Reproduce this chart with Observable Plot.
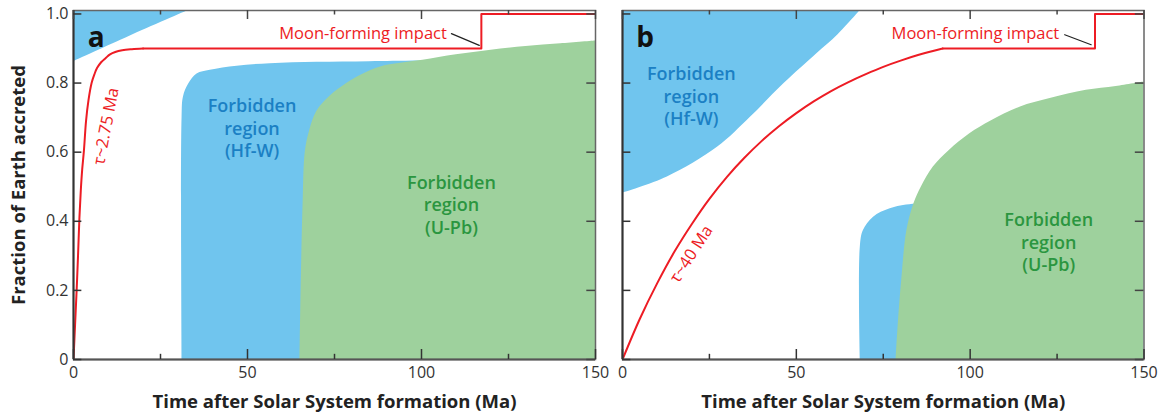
<!DOCTYPE html>
<html><head><meta charset="utf-8">
<script src="https://cdn.jsdelivr.net/npm/d3@7"></script>
<script src="https://cdn.jsdelivr.net/npm/@observablehq/plot@0.6"></script>
<style>
body{margin:0;background:#fff;}
#wrap{display:flex;width:1170px;height:418px;}
#wrap svg{overflow:visible;}
</style></head><body><div id="wrap"></div>
<script>
// ---- tick values ----
const xTicksMajor = [0, 50, 100, 150];
const xTicksMinor = [25, 75, 125];
const yTicks = [0, 0.2, 0.4, 0.6, 0.8, 1.0];

// ---- panel a ----
const aRedT = [0,0.45,0.9,1.3,1.7,2.1,2.5,3.0,3.6,4.3,5.2,6.0,6.8,8.0,9.2,10.5,12,14,16.8,20];
const aRedF = [0,0.1,0.2,0.3,0.41,0.49,0.55,0.605,0.69,0.75,0.8,0.825,0.844,0.861,0.872,0.883,0.89,0.895,0.898,0.9];
const aStepT = [20,117.2,117.2,150];
const aStepF = [0.9,0.9,1.0,1.0];
const aHfTopT = [0, 16, 33];
const aHfTopF = [0.862, 0.935, 1.01];
const aHfT = [31.2,31.2,31.6,33.1,35.5,39.3,47,56.5,70,85,100,150];
const aHfF = [0,0.7,0.76,0.797,0.826,0.837,0.849,0.856,0.86,0.862,0.864,0.866];
const aUPbT = [65.1,65.5,66.0,66.6,67.8,69.9,73.7,78.5,83,88,94,100.4,110,120,130,140,150];
const aUPbF = [0,0.25,0.46,0.6,0.66,0.718,0.762,0.799,0.825,0.846,0.857,0.866,0.882,0.895,0.906,0.914,0.922];

// ---- panel b ----
const bRedT = [0,5,10,15,20,25,30,35,40,45,50,55,60,65,70,75,80,85,92.1];
const bRedF = [0,0.118,0.221,0.313,0.393,0.465,0.528,0.583,0.632,0.675,0.713,0.747,0.777,0.803,0.826,0.847,0.865,0.881,0.9];
const bStepT = [92.1,135.9,135.9,150];
const bStepF = [0.9,0.9,1.0,1.0];
const bHfTopT = [0,12.9,27.3,36.8,46.4,55.9,62,68.4];
const bHfTopF = [0.481,0.528,0.614,0.701,0.798,0.885,0.94,1.01];
const bHfT = [68.4,68.4,69.3,72.2,77,83.6,100,150];
const bHfF = [0,0.325,0.373,0.412,0.436,0.449,0.455,0.46];
const bUPbT = [78.7,79.3,80.3,81.8,83.8,86,89.4,94,99.9,106,114.3,123,133.4,142,150];
const bUPbF = [0,0.1,0.228,0.373,0.45,0.5,0.557,0.605,0.653,0.69,0.73,0.755,0.779,0.79,0.803];

const FONT = "'Open Sans', 'Noto Sans', sans-serif";
const BLUE = "#70c5ee", GREEN = "#9ed19d", RED = "#ed1c24";
const BLUE_TXT = "#1b80c4", GREEN_TXT = "#2b9640";
const pts = (xs, ys) => xs.map((x, i) => ({x, y: ys[i]}));
const YMAX = 1.01;

function panel(o) {
  const marks = [
    Plot.areaY(pts(o.hfTopT, o.hfTopF), {x: "x", y1: "y", y2: YMAX, fill: BLUE, curve: "catmull-rom", clip: "frame"}),
    Plot.areaY(pts(o.hfT, o.hfF), {x: "x", y1: 0, y2: "y", fill: BLUE, curve: "catmull-rom", clip: "frame"}),
    Plot.areaY(pts(o.upbT, o.upbF), {x: "x", y1: 0, y2: "y", fill: GREEN, curve: "catmull-rom", clip: "frame"}),
    Plot.line(pts(o.redT, o.redF), {x: "x", y: "y", stroke: RED, strokeWidth: 2, curve: "catmull-rom", clip: "frame"}),
    Plot.line(pts(o.stepT, o.stepF), {x: "x", y: "y", stroke: RED, strokeWidth: 2, clip: "frame"}),
    Plot.line(o.leader, {x: "x", y: "y", stroke: "#222", strokeWidth: 1.2}),
    Plot.text(["Moon-forming impact"], {x: o.moonX, y: 0.943, fill: RED, fontSize: 16.5, fontFamily: FONT}),
    Plot.text([o.tau], {x: o.tauX, y: o.tauY, rotate: o.tauRot, fill: RED, fontSize: 16.5, fontFamily: FONT}),
    Plot.text(["Forbidden\nregion\n(Hf-W)"], {x: o.hfTxtX, y: o.hfTxtY, fill: BLUE_TXT, fontSize: 18, fontWeight: 600, lineHeight: 1.25, fontFamily: FONT}),
    Plot.text(["Forbidden\nregion\n(U-Pb)"], {x: o.upbTxtX, y: o.upbTxtY, fill: GREEN_TXT, fontSize: 18, fontWeight: 600, lineHeight: 1.25, fontFamily: FONT}),
    Plot.text([o.letter], {x: 6.5, y: 0.929, fill: "#111", fontSize: 28, fontWeight: 700, fontFamily: FONT}),
    // frame and inward ticks
    Plot.frame({stroke: "#666", strokeWidth: 1.5}),
    Plot.ruleX([0], {stroke: "#333", strokeWidth: 2}),
    Plot.ruleY([0], {stroke: "#555", strokeWidth: 2}),
    Plot.ruleX(xTicksMajor, {x: d => d, y1: 0, y2: 0.029, stroke: "#333", strokeWidth: 1.5}),
    Plot.ruleX(xTicksMinor, {x: d => d, y1: 0, y2: 0.015, stroke: "#333", strokeWidth: 1.5}),
    Plot.ruleX(xTicksMajor, {x: d => d, y1: YMAX, y2: YMAX - 0.026, stroke: "#444", strokeWidth: 1.5}),
    Plot.ruleX(xTicksMinor, {x: d => d, y1: YMAX, y2: YMAX - 0.013, stroke: "#444", strokeWidth: 1.5}),
    Plot.ruleY(yTicks, {y: d => d, x1: 0, x2: 2.4, stroke: "#333", strokeWidth: 1.5}),
    Plot.ruleY(yTicks, {y: d => d, x1: 150, x2: 147.5, stroke: "#444", strokeWidth: 1.5}),
    Plot.axisX({ticks: xTicksMajor, tickSize: 0, tickPadding: 7, label: null, fontSize: 16, fill: "#333", fontFamily: FONT}),
    Plot.text(["Time after Solar System formation (Ma)"], {frameAnchor: "bottom", textAnchor: "middle", lineAnchor: "middle", dy: 43, fontSize: 18.5, fontWeight: 700, fill: "#222", fontFamily: FONT})
  ];
  if (o.showY) {
    marks.push(Plot.axisY({ticks: yTicks, tickSize: 0, tickPadding: 5, label: null, fontSize: 16, fill: "#333", fontFamily: FONT,
      tickFormat: d => d === 0 ? "0" : d.toFixed(1)}));
    marks.push(Plot.text(["Fraction of Earth accreted"], {frameAnchor: "left", textAnchor: "middle", lineAnchor: "middle", dx: -54, rotate: -90, fontSize: 18.5, fontWeight: 700, fill: "#222", fontFamily: FONT}));
  }
  return Plot.plot({
    width: o.width, height: 418,
    marginLeft: o.ml, marginRight: o.mr, marginTop: 10, marginBottom: 59,
    x: {domain: [0, 150]},
    y: {domain: [0, YMAX], axis: o.showY ? undefined : null},
    style: {fontFamily: FONT, background: "transparent", overflow: "visible"},
    marks
  });
}

const wrap = document.getElementById("wrap");
wrap.append(panel({
  width: 597, ml: 73, mr: 2, showY: true, letter: "a",
  redT: aRedT, redF: aRedF, stepT: aStepT, stepF: aStepF, hfTopT: aHfTopT, hfTopF: aHfTopF, hfT: aHfT, hfF: aHfF, upbT: aUPbT, upbF: aUPbF,
  leader: [{x: 108.6, y: 0.943}, {x: 116.6, y: 0.909}], moonX: 83.2,
  tau: "τ~2.75 Ma", tauX: 9.4, tauY: 0.675, tauRot: -79,
  hfTxtX: 51.3, hfTxtY: 0.671, upbTxtX: 108.6, upbTxtY: 0.45
}));
wrap.append(panel({
  width: 573, ml: 25, mr: 26.5, showY: false, letter: "b",
  redT: bRedT, redF: bRedF, stepT: bStepT, stepF: bStepF, hfTopT: bHfTopT, hfTopF: bHfTopF, hfT: bHfT, hfF: bHfF, upbT: bUPbT, upbF: bUPbF,
  leader: [{x: 127.2, y: 0.94}, {x: 134.8, y: 0.911}], moonX: 101.5,
  tau: "τ~40 Ma", tauX: 19.8, tauY: 0.305, tauRot: -57,
  hfTxtX: 19.8, hfTxtY: 0.764, upbTxtX: 122.6, upbTxtY: 0.342
}));
</script></body></html>
